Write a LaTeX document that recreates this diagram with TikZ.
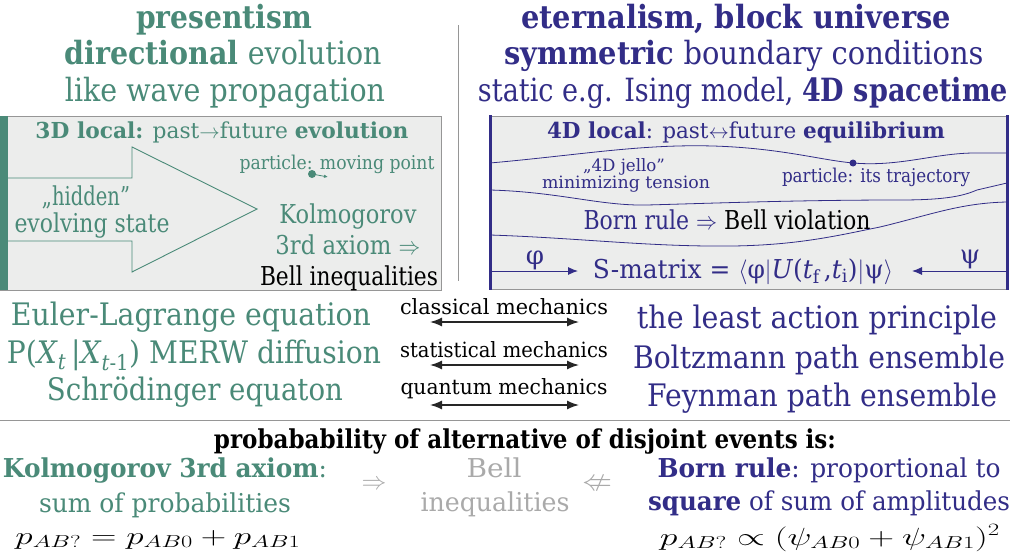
\documentclass[tikz,border=0pt]{standalone}
\usepackage{amssymb}
\usepackage{graphicx}
\usepackage{fontspec}
\setmainfont{DejaVu Serif}
\usetikzlibrary{arrows.meta}
\definecolor{tealc}{RGB}{74,138,120}
\definecolor{navyc}{RGB}{50,45,135}
\definecolor{boxfill}{RGB}{236,237,236}
\definecolor{lightg}{RGB}{170,170,170}
\definecolor{edgeg}{RGB}{150,150,150}
\newcommand{\fw}[2]{\resizebox{#1pt}{\height}{#2}}
\begin{document}
\begin{tikzpicture}[x=1pt,y=-1pt,
  txt/.style={inner sep=0pt, anchor=base},
  big/.style={txt, font=\fontsize{32}{36}\selectfont},
  mcol/.style={txt, font=\fontsize{31}{36}\selectfont},
  bx/.style={txt, font=\fontsize{26}{30}\selectfont},
  hd/.style={txt, font=\fontsize{22}{26}\selectfont},
  sml/.style={txt, font=\fontsize{19}{22}\selectfont},
  xsml/.style={txt, font=\fontsize{17}{20}\selectfont},
  lab/.style={txt, font=\fontsize{21}{24}\selectfont},
  bot/.style={txt, font=\fontsize{26}{30}\selectfont},
  tl/.style={text=tealc}, nv/.style={text=navyc},
  gr/.style={text=lightg},
  wave/.style={navyc, line width=0.8pt},
  dbl/.style={{Latex[length=12pt,width=9pt]}-{Latex[length=12pt,width=9pt]}, black!85, line width=1.4pt}]
\useasboundingbox (0,0) rectangle (1010,554);

% header
\node[big,tl] (p1) at (224,28) {\fw{176}{\textbf{presentism}}};
\node[big,tl] (p2) at (223,64) {\fw{317}{\textbf{directional} evolution}};
\node[big,tl] (p3) at (225,101) {\fw{320}{like wave propagation}};
\node[big,nv] (e1) at (736,28) {\fw{430}{\textbf{eternalism, block universe}}};
\node[big,nv] (e2) at (744,64) {\fw{479}{\textbf{symmetric} boundary conditions}};
\node[big,nv] (e3) at (743,101) {\fw{530}{static e.g. Ising model, \textbf{4D spacetime}}};
\draw[edgeg, line width=0.8pt] (458,25) -- (458,281);

% left box
\fill[boxfill] (0,116) rectangle (441,290);
\draw[edgeg, line width=0.6pt] (0,116) -- (441,116) -- (441,290) -- (0,290);
\fill[tealc] (0,116) rectangle (8,290);
\draw[tealc, line width=0.9pt] (8,178) -- (132,178) -- (132,147) -- (257,209) -- (132,272) -- (132,241) -- (8,241);
\node[hd,tl] (l1) at (222,138) {\fw{373}{\textbf{3D local:} past$\rightarrow$future \textbf{evolution}}};
\node[sml,tl] (l2) at (337,169) {\fw{195}{particle: moving point}};
\fill[tealc] (312,174) circle (4);
\draw[tealc, line width=0.8pt, -{Latex[length=4pt,width=3.5pt]}] (312,174) -- (328,177);
\node[bx,tl] (l3) at (86,205) {\fw{88}{„hidden”}};
\node[bx,tl] (l4) at (92,232) {\fw{155}{evolving state}};
\node[bx,tl] (l5) at (348,223) {\fw{137}{Kolmogorov}};
\node[bx,tl] (l6) at (348,254) {\fw{145}{3rd axiom $\Rightarrow$}};
\node[bx] (l7) at (349,285) {\fw{178}{Bell inequalities}};

% right box
\fill[boxfill] (490,116) rectangle (1007,289);
\draw[edgeg, line width=0.6pt] (490,116) -- (1007,116) (490,289) -- (1007,289);
\draw[wave] (490,163) .. controls (580,155) and (640,144) .. (713,146)
  .. controls (780,148) and (820,160) .. (853,163)
  .. controls (900,167) and (935,153) .. (975,153) -- (1007,153);
\fill[navyc] (853,163) circle (3.5);
\draw[wave] (490,190) .. controls (560,192) and (600,206) .. (647,205)
  .. controls (720,203) and (800,200) .. (900,200)
  .. controls (950,200) and (965,195) .. (977,190) -- (1007,183);
\draw[wave] (490,235) .. controls (580,238) and (650,247) .. (733,246)
  .. controls (800,245) and (840,235) .. (880,227)
  .. controls (930,215) and (960,203) .. (1007,202);
\draw[navyc, line width=3pt] (490,115) -- (490,290) (1007,115) -- (1007,290);
\node[hd,nv] (r1) at (746,138) {\fw{398}{\textbf{4D local}: past$\leftrightarrow$future \textbf{equilibrium}}};
\node[xsml,nv] (r2a) at (624,171) {\fw{82}{„4D jello”}};
\node[xsml,nv] (r2b) at (626,188) {\fw{168}{minimizing tension}};
\node[sml,nv] (r3) at (876,182) {\fw{188}{particle: its trajectory}};
\node[bx,nv] (r4) at (727,229) {\fw{287}{Born rule $\Rightarrow$ \textcolor{black}{Bell violation}}};
\node[bx,nv] (phi) at (535,264) {φ};
\node[bx,nv] (psi) at (970,263) {ψ};
\node[bx,nv] (sm) at (743,278) {\fw{300}{S-matrix = $\langle$φ$|$\textit{U}(\textit{t}\textsubscript{f}\,,\textit{t}\textsubscript{i})$|$ψ$\rangle$}};
\coordinate (pl) at (490,271);
\coordinate (pr) at (1007,271);
\draw[navyc, line width=1pt, -{Latex[length=10pt,width=8pt]}] (pl) -- (578,271);
\draw[navyc, line width=1pt, -{Latex[length=10pt,width=8pt]}] (pr) -- (912,271);

% middle
\node[mcol,tl] (m1) at (191,325) {\fw{360}{Euler-Lagrange equation}};
\node[mcol,tl] (m2) at (194,363) {\fw{374}{P(\textit{X}\textsubscript{\textit{t}}\,|\textit{X}\textsubscript{\textit{t}-1}) MERW diffusion}};
\node[mcol,tl] (m3) at (195,400) {\fw{296}{Schrödinger equaton}};
\node[mcol,nv] (n1) at (817,328) {\fw{360}{the least action principle}};
\node[mcol,nv] (n2) at (819,368) {\fw{372}{Boltzmann path ensemble}};
\node[mcol,nv] (n3) at (822,406) {\fw{350}{Feynman path ensemble}};
\node[lab] (c1) at (504,314) {\fw{208}{classical mechanics}};
\node[lab] (c2) at (504,357) {\fw{208}{statistical mechanics}};
\node[lab] (c3) at (504,394) {\fw{207}{quantum mechanics}};
\coordinate (a1l) at (430,322); \coordinate (a1r) at (579,322);
\coordinate (a2l) at (430,365); \coordinate (a2r) at (579,365);
\coordinate (a3l) at (430,405); \coordinate (a3r) at (579,405);
\draw[dbl] (a1l) -- (a1r);
\draw[dbl] (a2l) -- (a2r);
\draw[dbl] (a3l) -- (a3r);

% bottom
\draw[edgeg, line width=0.6pt] (0,420) -- (1010,420);
\node[bot] (b0) at (525,448) {\fw{622}{\textbf{probabability of alternative of disjoint events is:}}};
\node[bot,tl] (b1) at (165,477) {\fw{324}{\textbf{Kolmogorov 3rd axiom}:}};
\node[bot,tl] (b2) at (165,512) {\fw{252}{sum of probabilities}};
\node[bot] (b3) at (158,544) {\fw{285}{$p_{AB?}=p_{AB0}+p_{AB1}$}};
\node[bot,gr,anchor=center,font=\fontsize{30}{34}\selectfont] (bi) at (374,485) {$\Rightarrow$};
\node[bot,gr] (bb1) at (494,477) {\fw{55}{Bell}};
\node[bot,gr] (bb2) at (495,511) {\fw{149}{inequalities}};
\node[bot,gr,anchor=center,font=\fontsize{30}{34}\selectfont] (bn) at (597,485) {$\nLeftarrow$};
\node[bot,nv] (d1) at (829,477) {\fw{343}{\textbf{Born rule}: proportional to}};
\node[bot,nv] (d2) at (829,510) {\fw{362}{\textbf{square} of sum of amplitudes}};
\node[bot] (d3) at (830,545) {\fw{340}{$p_{AB?}\propto(\psi_{AB0}+\psi_{AB1})^2$}};
\end{tikzpicture}
\end{document}
